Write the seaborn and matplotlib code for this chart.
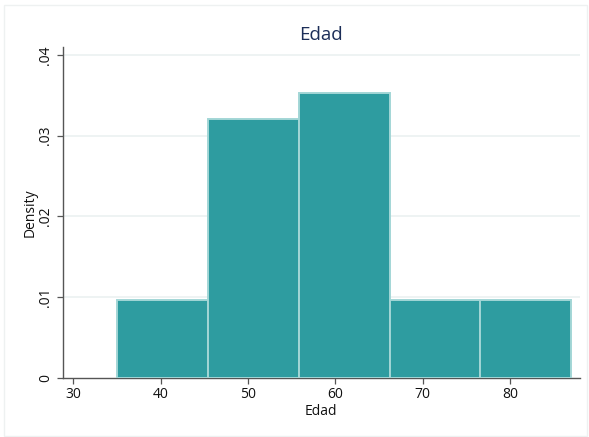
import matplotlib
matplotlib.use("Agg")
import matplotlib.pyplot as plt
import seaborn as sns
import numpy as np
from matplotlib.patches import Rectangle

# Age histogram: 5 bins from 35 to 87, counts per bin (N = 30)
bin_edges = [35.0, 45.4, 55.8, 66.2, 76.6, 87.0]
bin_counts = [3, 10, 11, 3, 3]
x_ticks = [30, 40, 50, 60, 70, 80]
y_ticks = [0, 0.01, 0.02, 0.03, 0.04]
y_tick_labels = ["0", ".01", ".02", ".03", ".04"]

sns.set_theme(style="white")
plt.rcParams["font.family"] = ["Open Sans", "DejaVu Sans"]

fig = plt.figure(figsize=(5.89, 4.37), dpi=100)
ax = fig.add_axes([0.1065, 0.1357, 0.8782, 0.7574])

centers = [(a + b) / 2 for a, b in zip(bin_edges[:-1], bin_edges[1:])]
sns.histplot(x=centers, weights=bin_counts, bins=bin_edges, stat="density",
             color="#2e9ca0", edgecolor="#a3d6d6", linewidth=1.4, alpha=1,
             ax=ax, zorder=3)

ax.set_xlim(28.8, 88.0)
ax.set_ylim(0, 0.041)
ax.set_xticks(x_ticks)
ax.set_xticklabels([str(t) for t in x_ticks], fontsize=10)
ax.set_yticks(y_ticks)
ax.set_yticklabels(y_tick_labels, fontsize=10, rotation=90, va="center")

for y in y_ticks[1:]:
    ax.axhline(y, color="#eaf0f0", linewidth=1.1, zorder=1)

for side in ["top", "right"]:
    ax.spines[side].set_visible(False)
for side in ["left", "bottom"]:
    ax.spines[side].set_color("#555555")
    ax.spines[side].set_linewidth(1.0)

ax.tick_params(axis="both", which="major", direction="out", length=4,
               width=0.9, color="#555555", labelcolor="#111111", pad=3,
               bottom=True, left=True)

ax.set_xlabel("Edad", fontsize=10, color="#111111", labelpad=1)
ax.set_ylabel("Density", fontsize=10, color="#111111", labelpad=0)
ax.set_title("Edad", fontsize=13.5, color="#1c2e58", pad=5)

# faint outer frame of the graph region
fig.patches.append(Rectangle((0.007, 0.003), 0.99, 0.985, transform=fig.transFigure,
                             fill=False, edgecolor="#eef1f1", linewidth=1.0))

fig.savefig("out.png", dpi=100, facecolor="white")
